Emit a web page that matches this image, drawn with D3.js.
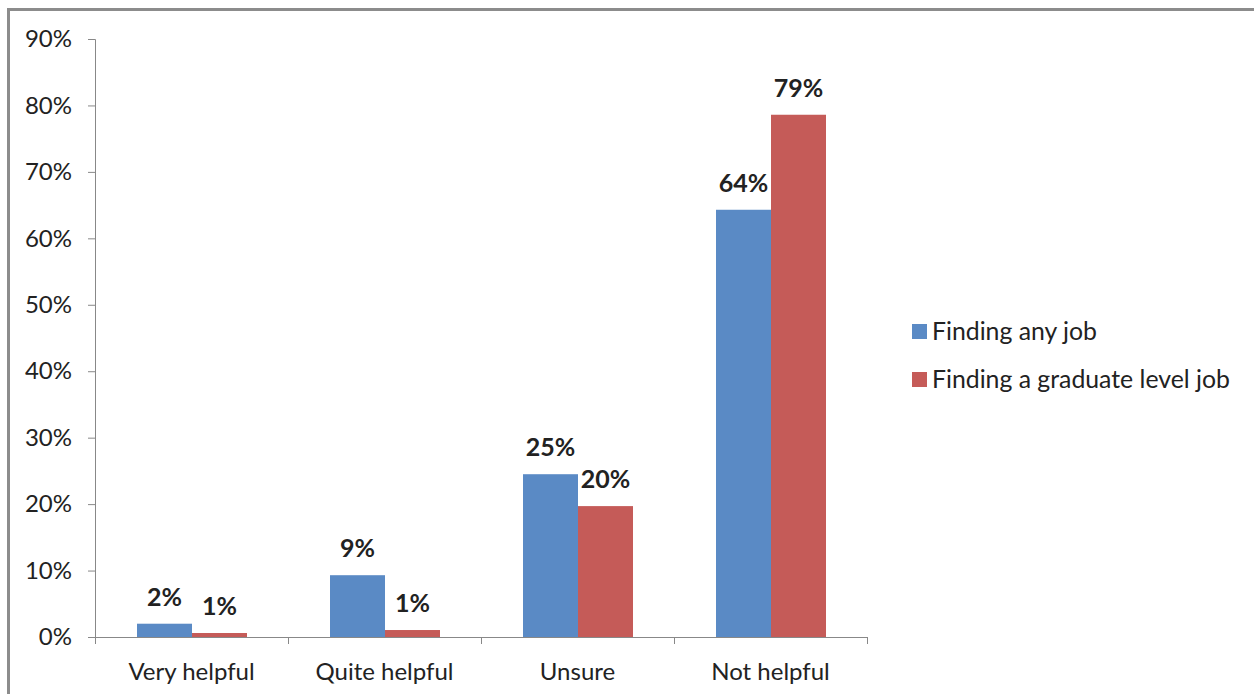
<!DOCTYPE html>
<html>
<head>
<meta charset="utf-8">
<script src="https://cdn.jsdelivr.net/npm/d3@7"></script>
<style>
    body { margin: 0; background: #fff; }
    svg text { font-family: Lato, "Open Sans", sans-serif; fill: #222; }
</style>
</head>
<body>
<div id="chart"></div>
<script>
const categories = ["Very helpful", "Quite helpful", "Unsure", "Not helpful"];
const seriesNames = ["Finding any job", "Finding a graduate level job"];
const anyJob = [0.02, 0.093, 0.245, 0.643];
const graduateJob = [0.006, 0.0105, 0.197, 0.786];
const labelsAny = ["2%", "9%", "25%", "64%"];
const labelsGrad = ["1%", "1%", "20%", "79%"];
const yTicks = [0, 0.1, 0.2, 0.3, 0.4, 0.5, 0.6, 0.7, 0.8, 0.9];
const colors = ["#5a8ac5", "#c55b58"];

const W = 1254, H = 694;
const margin = { top: 39, left: 95 };
const width = 772, height = 598;

const svg = d3.select("#chart").append("svg")
    .attr("width", W).attr("height", H);

// outer frame
svg.append("rect")
    .attr("x", 8.5).attr("y", 9.5)
    .attr("width", W + 20).attr("height", H + 20)
    .attr("fill", "none").attr("stroke", "#8c8c8c").attr("stroke-width", 3);

const g = svg.append("g").attr("transform", `translate(${margin.left},${margin.top})`);

const x0 = d3.scaleBand().domain(categories).range([0, width]).paddingInner(0).paddingOuter(0);
const x1 = d3.scaleBand().domain(seriesNames).range([42, x0.bandwidth() - 41]);
const y = d3.scaleLinear().domain([0, 0.9]).range([height, 0]);

// y axis
const yAxis = d3.axisLeft(y).tickValues(yTicks).tickFormat(d3.format(".0%")).tickSize(7).tickPadding(16);
const yg = g.append("g").call(yAxis);
yg.select(".domain").attr("stroke", "#888").attr("d", `M-7,0.5H0.5V${height}`);
yg.selectAll(".tick line").attr("stroke", "#888");
yg.selectAll(".tick text").style("font-size", "24px").attr("fill", "#222");

// x axis with ticks at category boundaries
const xg = g.append("g").attr("transform", `translate(0,${height})`);
xg.append("line").attr("x1", 0).attr("x2", width).attr("y1", 0.5).attr("y2", 0.5).attr("stroke", "#888");
xg.selectAll(".bnd").data(categories.concat(["end"])).enter().append("line")
    .attr("x1", (d, i) => i * x0.step() + 0.5)
    .attr("x2", (d, i) => i * x0.step() + 0.5)
    .attr("y1", 0).attr("y2", 7).attr("stroke", "#888");
xg.selectAll(".xl").data(categories).enter().append("text")
    .attr("x", d => x0(d) + x0.bandwidth() / 2)
    .attr("y", 43)
    .attr("text-anchor", "middle")
    .style("font-size", "24px")
    .text(d => d);

// bars
const rows = categories.map((c, i) => ({
    cat: c,
    vals: [
        { s: seriesNames[0], v: anyJob[i], label: labelsAny[i], c: colors[0] },
        { s: seriesNames[1], v: graduateJob[i], label: labelsGrad[i], c: colors[1] }
    ]
}));

const grp = g.selectAll(".grp").data(rows).enter().append("g")
    .attr("transform", d => `translate(${x0(d.cat)},0)`);

grp.selectAll("rect").data(d => d.vals).enter().append("rect")
    .attr("x", d => x1(d.s))
    .attr("width", x1.bandwidth())
    .attr("y", d => y(d.v))
    .attr("height", d => height - y(d.v))
    .attr("fill", d => d.c);

grp.selectAll(".lbl").data(d => d.vals).enter().append("text")
    .attr("x", d => x1(d.s) + x1.bandwidth() / 2)
    .attr("y", d => y(d.v) - 18)
    .attr("text-anchor", "middle")
    .style("font-size", "25px")
    .style("font-weight", "bold")
    .attr("fill", "#000")
    .text(d => d.label);

// legend
const legend = svg.append("g").attr("transform", "translate(912,324)");
const li = legend.selectAll(".li").data(seriesNames).enter().append("g")
    .attr("transform", (d, i) => `translate(0,${i * 48})`);
li.append("rect").attr("width", 15).attr("height", 15).attr("fill", (d, i) => colors[i]);
li.append("text").attr("x", 20).attr("y", 16).style("font-size", "24.8px").text(d => d);
</script>
</body>
</html>
